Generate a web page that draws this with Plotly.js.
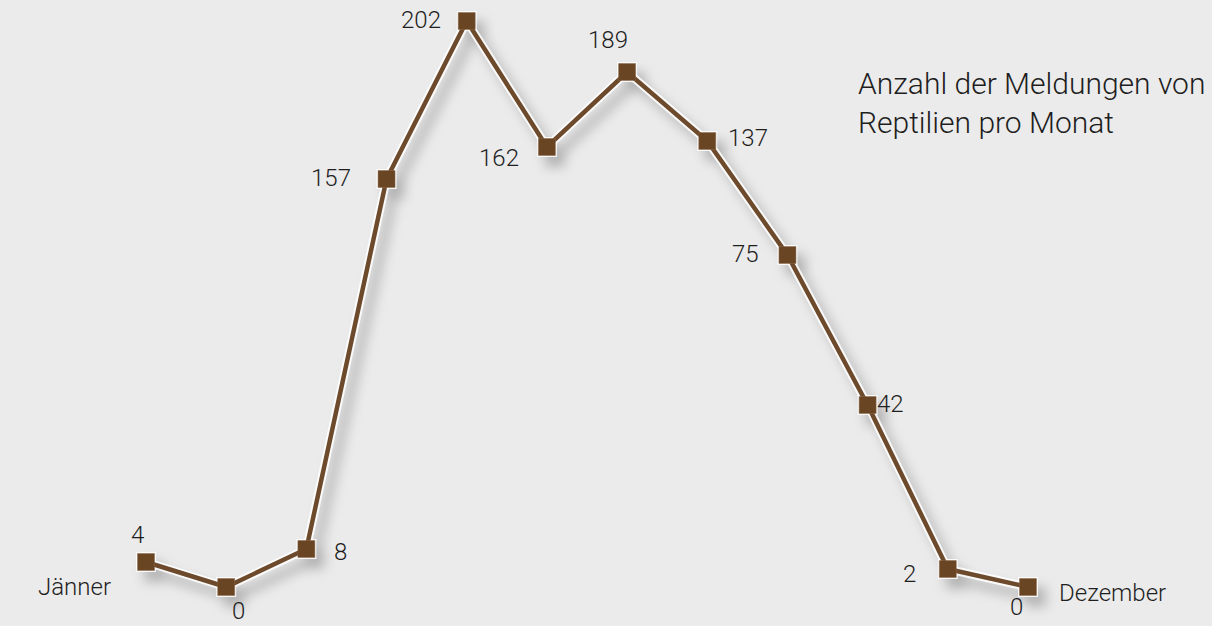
<!DOCTYPE html>
<html>
<head>
<meta charset="utf-8">
<script src="https://cdn.plot.ly/plotly-3.0.1.min.js"></script>
<style>
html,body{margin:0;padding:0;background:#ebebeb;}
#chart{width:1212px;height:626px;}
#chart .scatterlayer .trace:first-child{filter:drop-shadow(8px 10px 6px rgba(0,0,0,0.26));}
</style>
</head>
<body>
<div id="chart"></div>
<script>
// Months (1 = Jänner ... 12 = Dezember)
const months = [1,2,3,4,5,6,7,8,9,10,11,12];
const monthNames = ["Jänner","Februar","März","April","Mai","Juni","Juli","August","September","Oktober","November","Dezember"];
// Reported counts (labels shown on the chart)
const reports = [4,0,8,157,202,162,189,137,75,42,2,0];
// Drawn height of each point in the illustration (not proportional to the counts)
const drawnLevel = [25,0,38,408,566,440,515,446,332,182,18,0];
// Label offsets (px, right / down) relative to each point
const labelDx = [-9,12,34,-56,-46,-48,-19,41,-42,23,-38,-11];
const labelDy = [-27,24,3,-1,-1,11,-32,-3,-1,-1,5,20];

const lineColor = "#6c4a2b";
const markerColor = "#6a4524";

const traces = [
  { // white halo under the line (also carries the drop shadow)
    x: months, y: drawnLevel, mode: "lines+markers", hoverinfo: "skip",
    line: {color: "rgba(255,255,255,0.85)", width: 8.5},
    marker: {symbol: "square", size: 20, color: "rgba(255,255,255,0.85)"}
  },
  {
    x: months, y: drawnLevel, mode: "lines+markers",
    text: reports.map((v,i)=>monthNames[i]+": "+v), hoverinfo: "text",
    line: {color: lineColor, width: 4.5},
    marker: {symbol: "square", size: 17, color: markerColor, line: {color: "#8a6a4c", width: 0.5}}
  }
];

const font = {family: "Roboto, 'DejaVu Sans', sans-serif", color: "#1e1e1e", weight: 300};

const annotations = reports.map((v,i)=>({
  x: months[i], y: drawnLevel[i], text: String(v), showarrow: false,
  xshift: labelDx[i], yshift: -labelDy[i],
  font: Object.assign({size: 24}, font)
}));
annotations.push({
  x: months[0], y: drawnLevel[1], text: monthNames[0], showarrow: false,
  xshift: -72, yshift: 0, font: Object.assign({size: 24}, font)
});
annotations.push({
  x: months[11], y: drawnLevel[11], text: monthNames[11], showarrow: false,
  xshift: 85, yshift: -6, font: Object.assign({size: 24}, font)
});
annotations.push({
  xref: "paper", yref: "paper", x: 0.706, y: 0.897, xanchor: "left", yanchor: "top",
  text: "Anzahl der Meldungen von<br>Reptilien pro Monat", showarrow: false, align: "left",
  font: Object.assign({size: 30}, font)
});

const layout = {
  width: 1212, height: 626,
  margin: {l: 0, r: 0, t: 0, b: 0},
  paper_bgcolor: "#ebebeb", plot_bgcolor: "#ebebeb",
  showlegend: false,
  xaxis: {range: [-0.821, 14.295], visible: false, fixedrange: true},
  yaxis: {range: [-39, 587], visible: false, fixedrange: true},
  annotations: annotations
};

Plotly.newPlot("chart", traces, layout, {displayModeBar: false, staticPlot: true});
</script>
</body>
</html>
